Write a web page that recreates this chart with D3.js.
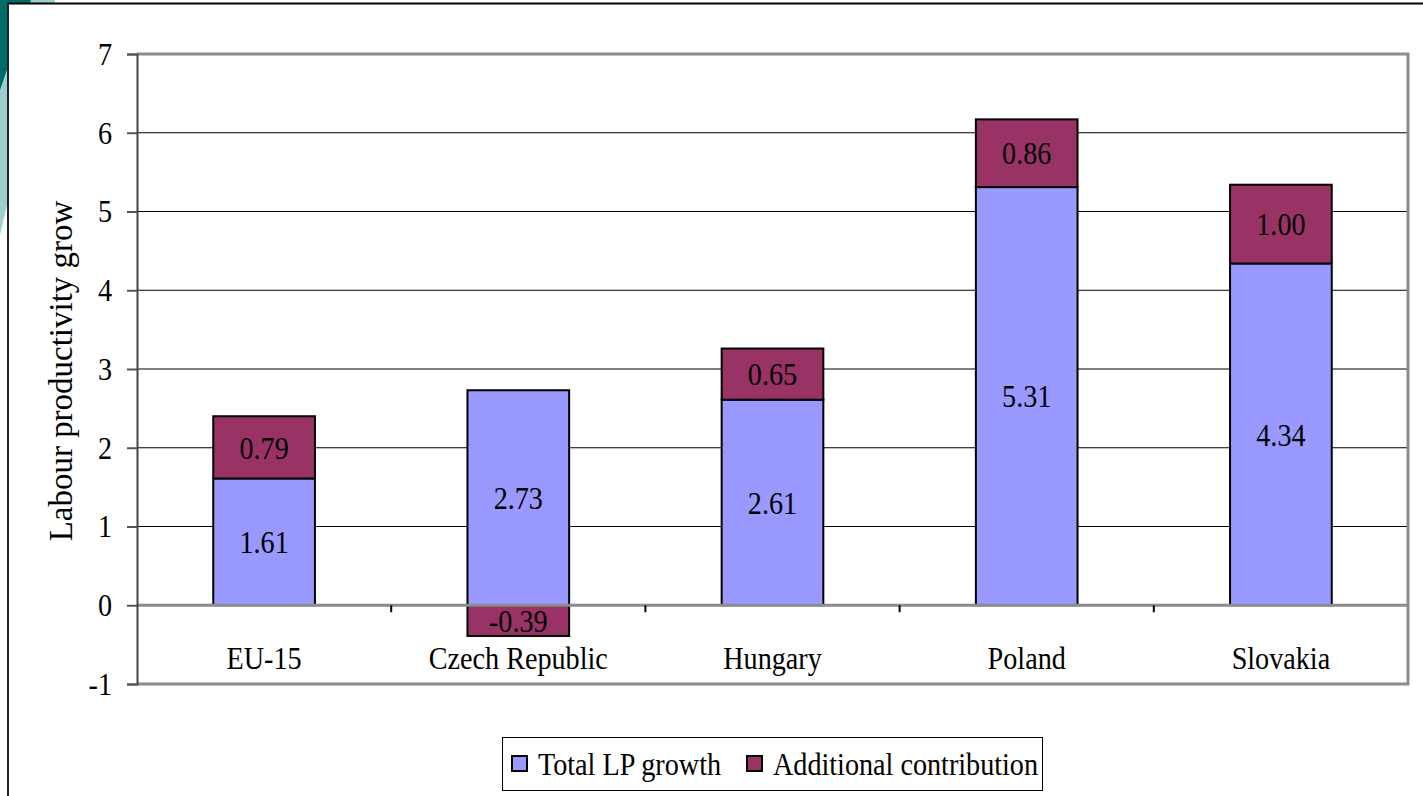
<!DOCTYPE html>
<html>
<head>
<meta charset="utf-8">
<script src="https://cdn.jsdelivr.net/npm/d3@7"></script>
<style>
  html, body { margin: 0; padding: 0; background: #fff; }
  svg { display: block; }
  text { font-family: "Liberation Serif", "Times New Roman", serif; fill: #000; }
</style>
</head>
<body>
<svg id="chart" width="1423" height="796"></svg>
<script>
const categories = ["EU-15", "Czech Republic", "Hungary", "Poland", "Slovakia"];
const totalLP = [1.61, 2.73, 2.61, 5.31, 4.34];
const additional = [0.79, -0.39, 0.65, 0.86, 1.00];
const seriesNames = ["Total LP growth", "Additional contribution"];
const seriesColors = ["#9999FF", "#993366"];
const yTicks = [-1, 0, 1, 2, 3, 4, 5, 6, 7];
const yTitle = "Labour productivity grow";

(function () {
const svg = d3.select("#chart");
const W = 1423, H = 796;
const FS = 32, SX = 0.88;

function addText(parent, px, py, str, anchor) {
  return parent.append("text")
    .attr("transform", `translate(${px},${py}) scale(${SX},1)`)
    .attr("dy", "0.35em").attr("text-anchor", anchor || "middle")
    .attr("font-size", FS).text(str);
}

// slide decoration
svg.append("polygon").attr("points", "0,0 55,0 0,235").attr("fill", "#9ECFCC");
svg.append("polygon").attr("points", "0,0 31,0 0,90").attr("fill", "#006C68");
svg.append("rect").attr("x", 8).attr("y", 3).attr("width", W - 8).attr("height", H - 3).attr("fill", "#fff");
svg.append("line").attr("x1", 8).attr("x2", W).attr("y1", 3.5).attr("y2", 3.5).attr("stroke", "#000").attr("stroke-width", 2);
svg.append("line").attr("x1", 8).attr("x2", 8).attr("y1", 3).attr("y2", H).attr("stroke", "#222").attr("stroke-width", 2);

const pL = 137, pR = 1408, pT = 54, pB = 684;
const y = d3.scaleLinear().domain([-1, 7]).range([pB, pT]);
const x = d3.scaleBand().domain(categories).range([pL, pR]).paddingInner(0.6).paddingOuter(0.3);
const xb = d3.scaleBand().domain(categories).range([pL, pR]);

// gridlines
svg.append("g").selectAll("line").data(yTicks.filter(t => t > 0 && t < 7)).join("line")
  .attr("x1", pL).attr("x2", pR).attr("y1", d => y(d)).attr("y2", d => y(d))
  .attr("stroke", "#000").attr("stroke-width", 1);

// plot border (top, right, bottom)
svg.append("path")
  .attr("d", `M${pL},${y(7)}H${pR}V${y(-1)}H${pL}`)
  .attr("fill", "none").attr("stroke", "#8c8c8c").attr("stroke-width", 3);

// stacked bars
const g = svg.append("g");
categories.forEach((c, i) => {
  const t = totalLP[i], a = additional[i];
  const bx = x(c), bw = x.bandwidth();
  g.append("rect").attr("x", bx).attr("width", bw)
    .attr("y", y(t)).attr("height", y(0) - y(t))
    .attr("fill", seriesColors[0]).attr("stroke", "#000").attr("stroke-width", 2);
  let a0, a1;
  if (a >= 0) { a0 = t; a1 = t + a; } else { a0 = a; a1 = 0; }
  g.append("rect").attr("x", bx).attr("width", bw)
    .attr("y", y(a1)).attr("height", y(a0) - y(a1))
    .attr("fill", seriesColors[1]).attr("stroke", "#000").attr("stroke-width", 2);
  addText(g, bx + bw / 2, y(t / 2), t.toFixed(2));
  addText(g, bx + bw / 2, y((a0 + a1) / 2), a.toFixed(2));
});

// zero axis line
svg.append("line").attr("x1", pL).attr("x2", pR).attr("y1", y(0)).attr("y2", y(0))
  .attr("stroke", "#8c8c8c").attr("stroke-width", 3);

// category boundary ticks
svg.append("g").selectAll("line").data(categories.slice(1)).join("line")
  .attr("x1", d => xb(d)).attr("x2", d => xb(d)).attr("y1", y(0)).attr("y2", y(0) + 7)
  .attr("stroke", "#000").attr("stroke-width", 2);

// y axis
const yAxis = svg.append("g").attr("transform", `translate(${pL},0)`)
  .call(d3.axisLeft(y).tickValues(yTicks).tickSize(10).tickPadding(14).tickFormat(d => String(d)));
yAxis.select(".domain").attr("stroke", "#444").attr("stroke-width", 2);
yAxis.selectAll(".tick line").attr("stroke", "#555").attr("stroke-width", 2);
yAxis.selectAll(".tick text").attr("font-size", FS).attr("font-family", "Liberation Serif")
  .attr("fill", "#000").attr("x", -25 / SX).attr("transform", `scale(${SX},1)`);

// category labels
const cg = svg.append("g");
categories.forEach(c => addText(cg, x(c) + x.bandwidth() / 2, 658, c));

// y title
svg.append("text").attr("transform", `translate(60,${(pT + pB) / 2 + 2}) rotate(-90) scale(0.97,1)`)
  .attr("text-anchor", "middle").attr("dy", "0.35em").attr("font-size", 34).text(yTitle);

// legend
const lg = svg.append("g");
lg.append("rect").attr("x", 502.5).attr("y", 737.5).attr("width", 540).attr("height", 53)
  .attr("fill", "#fff").attr("stroke", "#000").attr("stroke-width", 1);
const legendX = [512, 747];
seriesNames.forEach((n, i) => {
  lg.append("rect").attr("x", legendX[i]).attr("y", 756).attr("width", 15).attr("height", 15)
    .attr("fill", seriesColors[i]).attr("stroke", "#000").attr("stroke-width", 2);
  addText(lg, legendX[i] + 26, 764, n, "start");
});
})();
</script>
</body>
</html>
